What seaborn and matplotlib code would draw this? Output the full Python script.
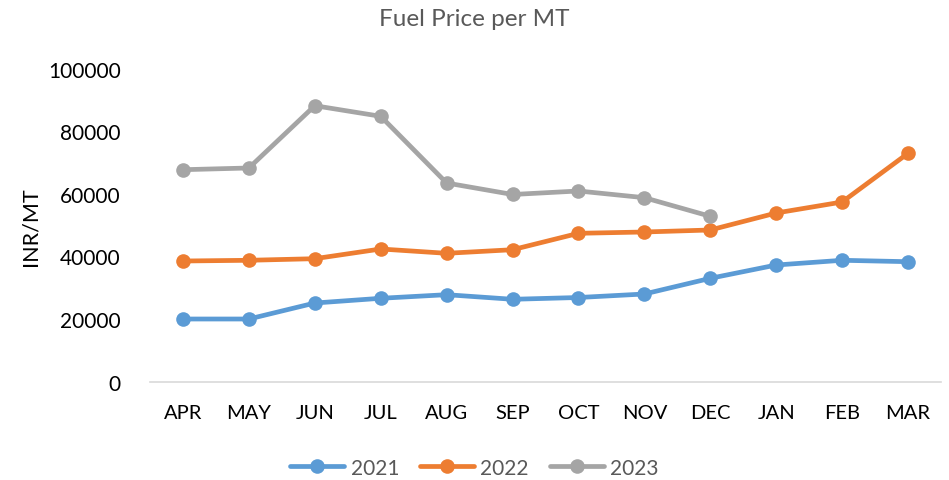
import numpy as np
import pandas as pd
import matplotlib
matplotlib.use('Agg')
import matplotlib.pyplot as plt
import seaborn as sns

months = ['APR', 'MAY', 'JUN', 'JUL', 'AUG', 'SEP', 'OCT', 'NOV', 'DEC', 'JAN', 'FEB', 'MAR']
fy2021 = [20030, 20030, 25140, 26650, 27800, 26330, 26900, 28020, 33030, 37280, 38790, 38340]
fy2022 = [38560, 38790, 39300, 42400, 41020, 42170, 47410, 47830, 48470, 53900, 57410, 72970]
fy2023 = [67730, 68280, 88180, 84790, 63480, 59810, 60930, 58790, 52840, np.nan, np.nan, np.nan]
years = ['2021', '2022', '2023']
colores = ['#5B9BD5', '#ED7D31', '#A5A5A5']

# tabela longa pro seaborn
df = pd.DataFrame({
    'Mes': months * 3,
    'Preco': fy2021 + fy2022 + fy2023,
    'Ano': [y for y in years for _ in months],
})
df = df.dropna()

sns.set_style('white')
plt.rcParams['font.family'] = ['Lato', 'DejaVu Sans']

fig = plt.figure(figsize=(9.49, 4.81), dpi=100)
ax = fig.add_axes([150/949, 1 - 382.7/481, 791/949, 313/481])

sns.lineplot(data=df, x='Mes', y='Preco', hue='Ano', palette=colores, sort=False,
             marker='o', markersize=10.5, markeredgewidth=0, linewidth=3.4, ax=ax)

ax.set_xlim(-0.5, 11.5)
ax.set_ylim(0, 100000)
ax.set_yticks(np.arange(0, 100001, 20000))
ax.set_yticklabels([str(v) for v in range(0, 100001, 20000)])
ax.tick_params(axis='both', length=0, labelsize=15, colors='black')
ax.tick_params(axis='x', labelsize=14.5, pad=16)
ax.tick_params(axis='y', pad=21)

for s in ['top', 'right', 'left']:
    ax.spines[s].set_visible(False)
ax.spines['bottom'].set_color('#D9D9D9')
ax.spines['bottom'].set_linewidth(1.2)

ax.set_xlabel('')
ax.set_ylabel('INR/MT', fontsize=15.5, color='black')
ax.yaxis.set_label_coords(-0.138, 0.5)

fig.text(0.5, 1 - 20/481, 'Fuel Price per MT', ha='center', va='center',
         fontsize=17.5, color='#595959')

handles, labels = ax.get_legend_handles_labels()
ax.legend(handles, labels, loc='center', bbox_to_anchor=(0.41, -0.275), ncol=3,
          frameon=False, fontsize=15, handlelength=2.6, columnspacing=1.0,
          handletextpad=0.3)
plt.setp(ax.get_legend().get_texts(), color='#595959')

plt.savefig('out.png', dpi=100)
